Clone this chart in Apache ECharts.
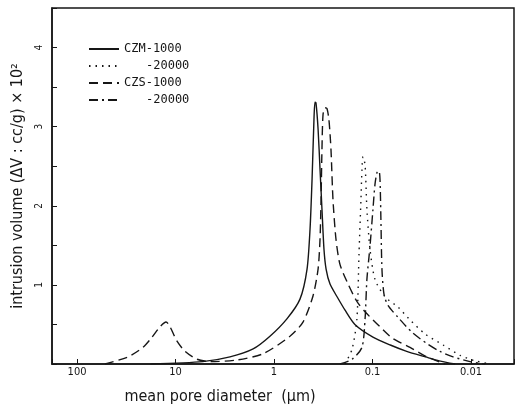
<!DOCTYPE html>
<html lang="en">

<head>
    <meta charset="UTF-8">
    <style>
        html, body { margin: 0; padding: 0; background: #fff; }
        #main { width: 518px; height: 417px; }
    </style>
    <title>pore size distribution</title>
</head>

<body>
    <div id="main"></div>

    <script src="https://cdn.jsdelivr.net/npm/echarts@6/dist/echarts.min.js"></script>
    <script>
        // values: diameter (um) / intrusion volume (x10^2)
        var czm1000D = [18, 5.3, 2.8, 1.63, 1.10, 0.74, 0.545, 0.462, 0.431, 0.411, 0.393, 0.384, 0.375, 0.357, 0.341, 0.326, 0.311, 0.296, 0.270, 0.229, 0.190, 0.151, 0.099, 0.066, 0.045, 0.029, 0.021, 0.0145];
        var czm1000V = [0, 0.03, 0.09, 0.19, 0.35, 0.57, 0.82, 1.2, 1.7, 2.33, 3.09, 3.31, 3.3, 2.97, 2.46, 1.96, 1.45, 1.2, 1.01, 0.85, 0.68, 0.50, 0.34, 0.24, 0.16, 0.09, 0.04, 0];

        var czm20000D = [0.190, 0.161, 0.144, 0.137, 0.131, 0.128, 0.125, 0.119, 0.114, 0.106, 0.0944, 0.0747, 0.0551, 0.0426, 0.0293, 0.0192, 0.0129, 0.0091, 0.0064];
        var czm20000V = [0, 0.19, 0.57, 1.41, 2.08, 2.46, 2.62, 2.52, 1.96, 1.45, 1.07, 0.85, 0.72, 0.57, 0.38, 0.24, 0.11, 0.04, 0];

        var czs1000D = [52, 30.3, 21.4, 17.3, 14.4, 12.5, 9.66, 8.01, 6.05, 4.47, 2.38, 1.29, 0.689, 0.508, 0.402, 0.357, 0.341, 0.333, 0.326, 0.318, 0.303, 0.290, 0.277, 0.264, 0.252, 0.235, 0.214, 0.177, 0.144, 0.119, 0.0839, 0.0619, 0.0416, 0.0280, 0.0184];
        var czs1000V = [0, 0.09, 0.21, 0.34, 0.47, 0.53, 0.29, 0.16, 0.06, 0.03, 0.05, 0.13, 0.35, 0.53, 0.86, 1.2, 1.58, 2.08, 2.71, 3.15, 3.24, 3.23, 3.09, 2.71, 2.08, 1.58, 1.26, 1.01, 0.79, 0.66, 0.47, 0.32, 0.21, 0.09, 0];

        var czs20000D = [0.214, 0.161, 0.128, 0.119, 0.114, 0.106, 0.0989, 0.0944, 0.0900, 0.0859, 0.0839, 0.0820, 0.0802, 0.0764, 0.0696, 0.0551, 0.0397, 0.0274, 0.0207, 0.0152, 0.0102, 0.0072];
        var czs20000V = [0, 0.06, 0.21, 0.57, 1.07, 1.49, 1.96, 2.27, 2.42, 2.44, 2.33, 1.77, 1.2, 0.88, 0.74, 0.59, 0.40, 0.25, 0.16, 0.09, 0.03, 0];

        var seriesNames = ['CZM-1000', 'CZM-20000', 'CZS-1000', 'CZS-20000'];
        var xTickLabels = ['100', '10', '1', '0.1', '0.01'];

        var ink = '#161616';

        function pairs(d, v) {
            var out = [];
            for (var i = 0; i < d.length; i++) out.push([d[i], v[i]]);
            return out;
        }

        function curve(name, d, v, dash) {
            return {
                name: name,
                type: 'line',
                data: pairs(d, v),
                smooth: 0.25,
                symbol: 'none',
                lineStyle: { color: ink, width: 1.4, type: dash },
                itemStyle: { color: ink }
            };
        }

        var myChart = echarts.init(document.getElementById('main'));

        var option = {
            backgroundColor: '#fff',
            animation: false,
            grid: {
                left: 52, right: 4, top: 8, bottom: 53,
                show: true, borderColor: ink, borderWidth: 1.5
            },
            legend: {
                data: seriesNames,
                orient: 'vertical',
                left: 83, top: 38,
                itemWidth: 30, itemHeight: 12, itemGap: 5,
                itemStyle: { opacity: 0 },
                formatter: function (name) {
                    // second rows repeat the sample name with a ditto
                    if (name.slice(-5) === '20000') return '{p| }-20000';
                    return name;
                },
                textStyle: {
                    fontFamily: 'DejaVu Sans Mono', fontSize: 12, color: ink,
                    rich: { p: { width: 22 } }
                }
            },
            xAxis: {
                type: 'log',
                inverse: true,
                min: 0.00366,
                max: 179.5,
                name: 'mean pore diameter  (\u03bcm)',
                nameLocation: 'middle',
                nameGap: 25,
                nameTextStyle: {
                    fontFamily: 'DejaVu Sans Condensed', fontSize: 16, color: ink,
                    padding: [0, 126, 0, 0]
                },
                axisLine: { lineStyle: { color: ink, width: 1.5 } },
                axisTick: { inside: true, length: 5, lineStyle: { color: ink } },
                splitLine: { show: false },
                axisLabel: {
                    margin: 3,
                    fontFamily: 'DejaVu Sans Condensed', fontSize: 11, color: ink,
                    formatter: function (v) {
                        var e = Math.log10(v);
                        if (Math.abs(e - Math.round(e)) > 1e-6) return '';
                        var idx = 2 - Math.round(e);
                        return xTickLabels[idx] || '';
                    }
                }
            },
            yAxis: {
                type: 'value',
                min: 0,
                max: 4.5,
                interval: 0.5,
                name: 'intrusion volume (\u0394V : cc/g) \u00d7 10\u00b2',
                nameLocation: 'middle',
                nameGap: 26,
                nameTextStyle: {
                    fontFamily: 'DejaVu Sans Condensed', fontSize: 16, color: ink
                },
                axisLine: { lineStyle: { color: ink, width: 1.5 } },
                axisTick: { inside: true, length: 5, lineStyle: { color: ink } },
                splitLine: { show: false },
                axisLabel: {
                    rotate: 90,
                    margin: 8,
                    fontFamily: 'DejaVu Sans Condensed', fontSize: 10, color: ink,
                    formatter: function (v) {
                        return (v > 0 && v % 1 === 0) ? String(v) : '';
                    }
                }
            },
            series: [
                curve(seriesNames[0], czm1000D, czm1000V, 'solid'),
                curve(seriesNames[1], czm20000D, czm20000V, [1.5, 5]),
                curve(seriesNames[2], czs1000D, czs1000V, [9, 5]),
                curve(seriesNames[3], czs20000D, czs20000V, [9, 4, 2, 4])
            ]
        };

        myChart.setOption(option);
    </script>
</body>

</html>
